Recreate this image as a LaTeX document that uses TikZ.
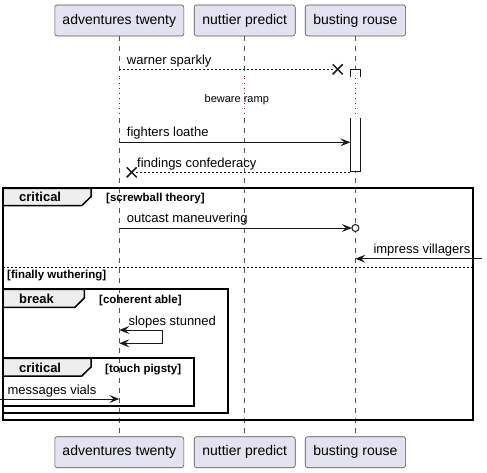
\documentclass[tikz,border=0pt]{standalone}
\usepackage{fontspec}
\setmainfont{Liberation Sans}
\usetikzlibrary{arrows.meta}
\definecolor{partfill}{HTML}{E2E2F0}
\definecolor{partdraw}{HTML}{181818}
\definecolor{tabfill}{HTML}{EEEEEE}
\definecolor{delaycol}{HTML}{A80036}
\begin{document}
\begin{tikzpicture}[x=1pt,y=-1pt,
  participant/.style={draw=partdraw!75, fill=partfill, rounded corners=2.5pt, line width=0.6pt, minimum height=31pt, inner sep=0pt, font=\fontsize{14}{16}\selectfont},
  lifeline/.style={draw=partdraw!75, line width=0.6pt, dash pattern=on 5pt off 5pt},
  delayline/.style={draw=delaycol, line width=1pt, dash pattern=on 1pt off 4pt},
  tipstyle/.tip={Stealth[length=10pt,width=8pt,inset=4pt]},
  msg/.style={draw=partdraw, line width=0.8pt, -tipstyle},
  retline/.style={draw=partdraw, line width=0.8pt, dash pattern=on 2pt off 2pt},
  lbl/.style={anchor=base west, inner sep=0pt, font=\fontsize{13}{15}\selectfont},
  frm/.style={draw=black, line width=1.7pt},
  tabshape/.style={draw=black, fill=tabfill, line width=1.5pt},
  tablbl/.style={anchor=base west, inner sep=0pt, font=\bfseries\fontsize{13}{15}\selectfont},
  guard/.style={anchor=base west, inner sep=0pt, font=\bfseries\fontsize{11.5}{13}\selectfont},
  cross/.style={draw=partdraw, line width=1.5pt},
  actbox/.style={draw=partdraw, line width=1pt, fill=white}
]
\useasboundingbox (0,0) rectangle (487,473);

% participants
\node[participant, minimum width=129pt] (A) at (119.3,20.5) {adventures twenty};
\node[participant, minimum width=101pt] (B) at (244.7,20.5) {nuttier predict};
\node[participant, minimum width=100.4pt] (C) at (355.4,20.5) {busting rouse};
\node[participant, minimum width=129pt] (A2) at (119.3,452.2) {adventures twenty};
\node[participant, minimum width=101pt] (B2) at (244.7,452.2) {nuttier predict};
\node[participant, minimum width=100.4pt] (C2) at (355.4,452.2) {busting rouse};

% lifelines
\foreach \p/\q in {A/A2,B/B2,C/C2}{
  \draw[lifeline] (\p.south) -- (\p |- 0,77);
  \draw[lifeline] (\p |- 0,118.3) -- (\q.north);
}

% activation
\fill[white] (350.3,69.7) rectangle (360.7,77);
\draw[partdraw, line width=1pt] (350.3,77) -- (350.3,69.7) -- (360.7,69.7) -- (360.7,77);
\draw[actbox] (350.3,118.3) -- (350.3,172) -- (360.7,172) -- (360.7,118.3);

% delay
\foreach \p in {A,B,C}{
  \draw[delayline] (\p |- 0,78) -- (\p |- 0,118);
}
\node[anchor=base, inner sep=0pt, font=\fontsize{11}{13}\selectfont] (delay) at (236.8,103) {beware ramp};

% frames
\draw[frm] (3,188.3) rectangle (472.7,420.3);
\draw[tabshape] (3,188.3) -- (91,188.3) -- (91,196.7) -- (81.7,205.7) -- (3,205.7) -- cycle;
\node[tablbl] (f1) at (19,201.6) {critical};
\node[guard] (g1) at (106,201.6) {[screwball theory]};
\draw[draw=black, line width=1pt, dash pattern=on 2pt off 2pt] (3,267.3) -- (472.7,267.3);
\node[guard] (g2) at (7,278.3) {[finally wuthering]};

\draw[frm] (3,289.3) rectangle (227.7,413);
\draw[tabshape] (3,289.3) -- (84.3,289.3) -- (84.3,298) -- (75,307.3) -- (3,307.3) -- cycle;
\node[tablbl] (f2) at (19,303.6) {break};
\node[guard] (g3) at (99,303.6) {[coherent able]};

\draw[frm] (3,358.3) rectangle (194.3,406.3);
\draw[tabshape] (3,358.3) -- (91,358.3) -- (91,367) -- (81.7,376) -- (3,376) -- cycle;
\node[tablbl] (f3) at (19,372.6) {critical};
\node[guard] (g4) at (105,372.6) {[touch pigsty]};

% messages
\coordinate (x1) at (337.7,69.3);
\draw[retline] (A |- 0,69.3) -- ([xshift=-4pt]x1);
\draw[cross] ([shift={(-5,-5)}]x1) -- ([shift={(5,5)}]x1) ([shift={(-5,5)}]x1) -- ([shift={(5,-5)}]x1);
\node[lbl] (m1) at (126.7,65) {warner sparkly};

\draw[msg] (A |- 0,142.3) -- (350.3,142.3);
\node[lbl] (m2) at (126.7,137) {fighters loathe};

\coordinate (x2) at (131.7,172.3);
\draw[retline] (350.3,172) -- ([xshift=4pt]x2 |- 0,172);
\draw[cross] ([shift={(-5,-5)}]x2) -- ([shift={(5,5)}]x2) ([shift={(-5,5)}]x2) -- ([shift={(5,-5)}]x2);
\node[lbl] (m3) at (137,167.5) {findings confederacy};

\coordinate (c1) at (C |- 0,228);
\draw[msg] (A |- 0,228) -- ([xshift=-3.6pt]c1);
\draw[partdraw, line width=1pt, fill=white] (c1) circle (3.5pt);
\node[lbl] (m4) at (126.7,222.7) {outcast maneuvering};

\coordinate (r1) at (482,258.7);
\draw[msg] (r1) -- (C |- r1);
\node[lbl] (m5) at (373.3,253.4) {impress villagers};

\draw[draw=partdraw, line width=0.8pt, tipstyle-tipstyle] (A |- 0,330) -- (162.3,330) -- (162.3,343.3) -- (A |- 0,343.3);
\node[lbl] (m6) at (128.3,325) {slopes stunned};

\coordinate (l1) at (0,399);
\draw[msg] (l1) -- (A |- l1);
\node[lbl] (m7) at (7.3,394.2) {messages vials};
\end{tikzpicture}
\end{document}
